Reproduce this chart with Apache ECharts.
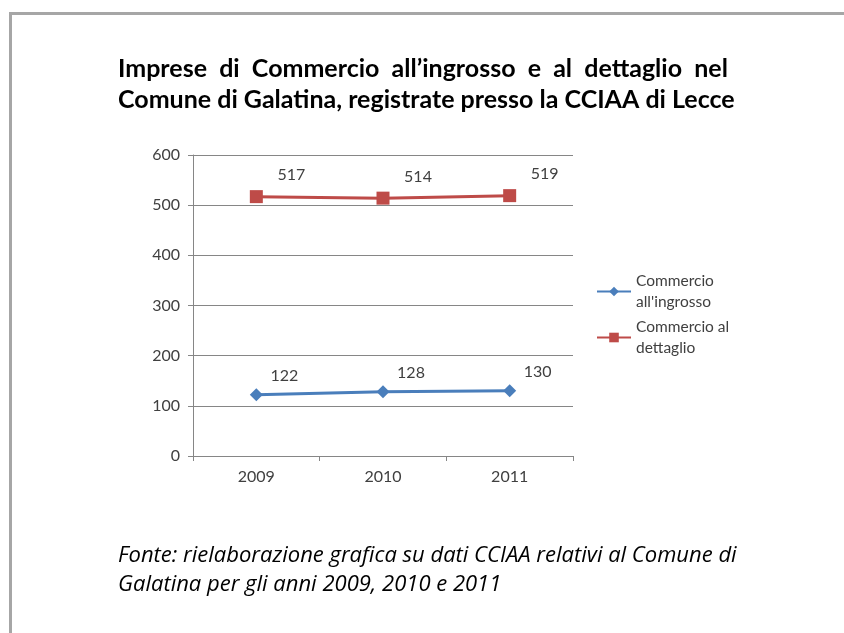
<!DOCTYPE html>
<html>
<head>
<meta charset="utf-8">
<script src="https://cdn.jsdelivr.net/npm/echarts@6/dist/echarts.min.js"></script>
<style>
html,body{margin:0;padding:0;background:#fff;}
#chart{width:844px;height:633px;}
</style>
</head>
<body>
<div id="chart"></div>
<script>
var categories = ['2009', '2010', '2011'];
var ingrosso = [122, 128, 130];
var dettaglio = [517, 514, 519];
var yTicks = [0, 100, 200, 300, 400, 500, 600];
var seriesNames = ['Commercio all\'ingrosso', 'Commercio al dettaglio'];
var legendLines = {
  'Commercio all\'ingrosso': 'Commercio\nall\'ingrosso',
  'Commercio al dettaglio': 'Commercio al\ndettaglio'
};
var titleLine1 = 'Imprese  di  Commercio  all\u2019ingrosso  e  al  dettaglio  nel';
var titleLine2 = 'Comune di Galatina, registrate presso la CCIAA di Lecce';
var noteText = 'Fonte: rielaborazione grafica su dati CCIAA relativi al Comune di\nGalatina per gli anni 2009, 2010 e 2011';

var FONT = 'Lato, "Open Sans", sans-serif';
var chart = echarts.init(document.getElementById('chart'));

function legendFor(name, top) {
  return {
    data: [name],
    left: 596,
    top: top,
    orient: 'vertical',
    padding: 0,
    itemWidth: 34,
    itemHeight: 12,
    itemGap: 5,
    selectedMode: false,
    formatter: function (n) { return legendLines[n]; },
    textStyle: {
      fontFamily: FONT, fontSize: 15.5, color: '#404040',
      lineHeight: 21, padding: [21, 0, 0, 0]
    }
  };
}

chart.setOption({
  animation: false,
  backgroundColor: '#ffffff',
  graphic: [
    { type: 'rect', shape: { x: 10.5, y: 13.5, width: 860, height: 640 },
      style: { fill: 'none', stroke: '#a6a6a6', lineWidth: 3 } },
    { type: 'text', left: 118, top: 53,
      style: { text: titleLine1 + '\n' + titleLine2, font: 'bold 25px ' + FONT, fill: '#000', lineHeight: 31 } },
    { type: 'text', left: 118, top: 541,
      style: { text: noteText, font: 'italic 22px "Open Sans", sans-serif', fill: '#000', lineHeight: 29 } }
  ],
  legend: [legendFor(seriesNames[0], 260), legendFor(seriesNames[1], 306)],
  grid: { left: 193, top: 155, right: 271, bottom: 177, containLabel: false },
  xAxis: {
    type: 'category',
    data: categories,
    boundaryGap: true,
    axisLine: { lineStyle: { color: '#868686', width: 1 } },
    axisTick: { show: true, length: 5, lineStyle: { color: '#868686' } },
    axisLabel: { fontFamily: FONT, fontSize: 16, color: '#404040', margin: 13 }
  },
  yAxis: {
    type: 'value',
    min: yTicks[0],
    max: yTicks[yTicks.length - 1],
    interval: yTicks[1] - yTicks[0],
    axisLine: { show: true, lineStyle: { color: '#868686', width: 1 } },
    axisTick: { show: true, length: 5, lineStyle: { color: '#868686' } },
    splitLine: { lineStyle: { color: '#868686', width: 1 } },
    axisLabel: { fontFamily: FONT, fontSize: 16, color: '#404040', margin: 13 }
  },
  series: [
    {
      name: seriesNames[0], type: 'line', data: ingrosso,
      symbol: 'diamond', symbolSize: 13,
      itemStyle: { color: '#4a7ebb' },
      lineStyle: { color: '#4a7ebb', width: 3 },
      label: { show: true, position: 'top', offset: [28, 1], distance: 5,
        fontFamily: FONT, fontSize: 16, color: '#404040' }
    },
    {
      name: seriesNames[1], type: 'line', data: dettaglio,
      symbol: 'rect', symbolSize: 13,
      itemStyle: { color: '#be4b48' },
      lineStyle: { color: '#be4b48', width: 3 },
      label: { show: true, position: 'top', offset: [35, -2], distance: 5,
        fontFamily: FONT, fontSize: 16, color: '#404040' }
    }
  ]
});
</script>
</body>
</html>
